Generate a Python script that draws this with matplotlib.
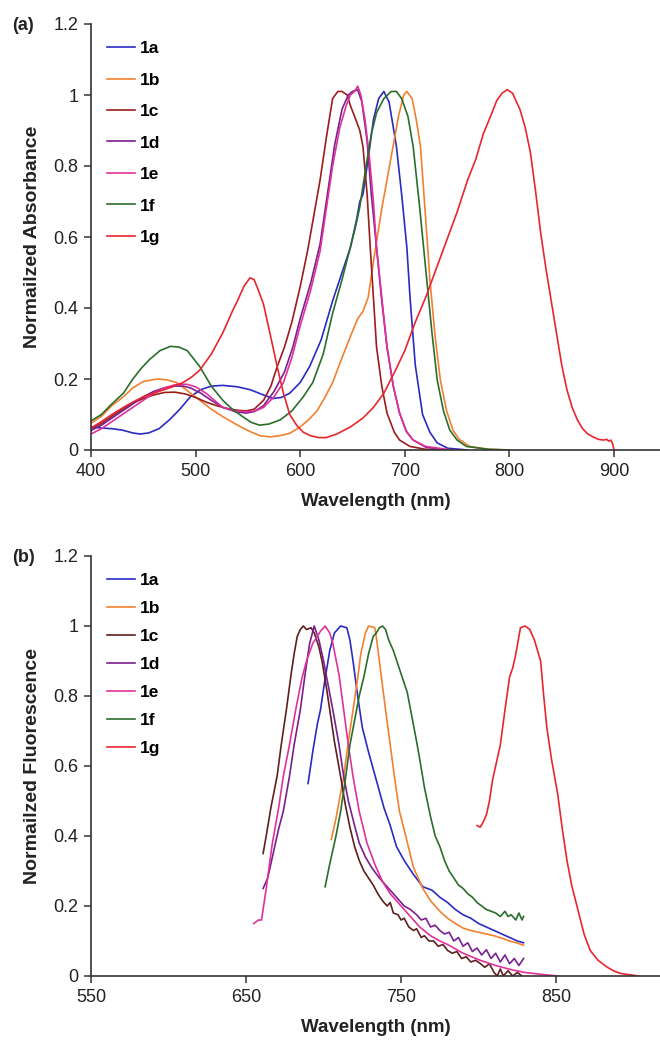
import matplotlib
matplotlib.use("Agg")
import matplotlib.pyplot as plt
from matplotlib.ticker import FuncFormatter

plt.rcParams['font.family'] = ['Liberation Sans', 'DejaVu Sans']

LABELS = ['1a', '1b', '1c', '1d', '1e', '1f', '1g']

# ---- panel (a): normalized absorbance ----
abs_1a_wl = [400, 410, 420, 430, 440, 447, 455, 465, 475, 485, 495, 505, 515, 526, 540, 552, 565, 574, 582,
             590, 600, 609, 620, 631, 640, 648, 654, 657, 660, 665, 670, 675, 680, 685, 692, 697, 702, 705,
             710, 717, 724, 731, 741, 760]
abs_1a = [0.065, 0.062, 0.06, 0.056, 0.048, 0.045, 0.048, 0.06, 0.085, 0.115, 0.15, 0.17, 0.18, 0.182, 0.178,
          0.17, 0.155, 0.145, 0.148, 0.16, 0.19, 0.235, 0.31, 0.42, 0.5, 0.57, 0.65, 0.70, 0.72, 0.82, 0.93,
          0.99, 1.01, 0.98, 0.855, 0.72, 0.57, 0.43, 0.24, 0.10, 0.05, 0.02, 0.005, 0.0]

abs_1b_wl = [400, 410, 420, 431, 440, 450, 463, 472, 482, 493, 504, 515, 526, 540, 552, 562, 571, 580, 590,
             600, 608, 616, 624, 631, 640, 648, 655, 660, 665, 670, 678, 686, 694, 699, 702, 707, 711, 715,
             720, 724, 729, 734, 740, 746, 752, 762, 780, 800]
abs_1b = [0.075, 0.095, 0.125, 0.15, 0.175, 0.193, 0.2, 0.198, 0.19, 0.165, 0.14, 0.115, 0.094, 0.07, 0.052,
          0.04, 0.037, 0.04, 0.047, 0.065, 0.085, 0.11, 0.15, 0.19, 0.26, 0.32, 0.37, 0.39, 0.43, 0.53, 0.68,
          0.81, 0.94, 1.0, 1.01, 0.99, 0.93, 0.855, 0.65, 0.48, 0.32, 0.197, 0.11, 0.056, 0.03, 0.01, 0.002, 0.0]

abs_1c_wl = [400, 410, 420, 430, 440, 450, 460, 470, 480, 490, 500, 510, 520, 530, 540, 548, 556, 565, 572,
             578, 585, 592, 600, 607, 613, 619, 625, 631, 636, 640, 645, 648, 652, 657, 660, 664, 667, 673,
             678, 683, 690, 695, 705, 720, 740]
abs_1c = [0.06, 0.075, 0.095, 0.115, 0.132, 0.145, 0.155, 0.162, 0.163, 0.158, 0.148, 0.135, 0.125, 0.117,
          0.112, 0.11, 0.115, 0.14, 0.18, 0.235, 0.29, 0.36, 0.46, 0.56, 0.66, 0.76, 0.88, 0.99, 1.01, 1.01,
          1.0, 0.97, 0.94, 0.9, 0.855, 0.72, 0.57, 0.29, 0.18, 0.104, 0.05, 0.028, 0.01, 0.002, 0.0]

abs_1d_wl = [400, 410, 420, 430, 440, 450, 460, 470, 480, 488, 495, 505, 515, 526, 538, 548, 556, 565, 575,
             585, 593, 600, 610, 619, 626, 633, 640, 646, 650, 655, 659, 664, 668, 673, 678, 683, 689, 695,
             702, 708, 720, 740]
abs_1d = [0.055, 0.07, 0.09, 0.11, 0.13, 0.15, 0.165, 0.175, 0.18, 0.18, 0.175, 0.16, 0.14, 0.12, 0.108,
          0.104, 0.108, 0.125, 0.165, 0.22, 0.29, 0.37, 0.47, 0.58, 0.72, 0.86, 0.96, 1.0, 1.01, 1.015, 0.98,
          0.87, 0.72, 0.57, 0.42, 0.29, 0.18, 0.104, 0.05, 0.028, 0.008, 0.0]

abs_1e_wl = [400, 410, 420, 430, 440, 450, 460, 470, 482, 492, 500, 510, 518, 526, 538, 549, 557, 565, 575,
             584, 592, 600, 610, 619, 626, 631, 638, 644, 648, 652, 655, 658, 662, 666, 670, 673, 678, 683,
             689, 695, 701, 708, 720, 745]
abs_1e = [0.045, 0.06, 0.08, 0.1, 0.12, 0.14, 0.16, 0.175, 0.185, 0.185, 0.178, 0.16, 0.14, 0.12, 0.11,
          0.108, 0.11, 0.12, 0.15, 0.19, 0.26, 0.35, 0.45, 0.56, 0.7, 0.8, 0.91, 0.97, 1.0, 1.01, 1.025, 1.0,
          0.93, 0.83, 0.7, 0.57, 0.43, 0.29, 0.18, 0.104, 0.055, 0.028, 0.01, 0.0]

abs_1f_wl = [400, 410, 420, 431, 440, 448, 456, 466, 476, 484, 492, 500, 504, 515, 526, 535, 545, 553, 561,
             570, 581, 592, 603, 612, 622, 631, 640, 647, 653, 657, 663, 668, 673, 680, 687, 692, 697, 703,
             708, 714, 721, 726, 731, 737, 743, 750, 759, 780, 800]
abs_1f = [0.082, 0.1, 0.13, 0.16, 0.2, 0.23, 0.255, 0.28, 0.292, 0.29, 0.28, 0.25, 0.235, 0.18, 0.14, 0.115,
          0.094, 0.078, 0.07, 0.073, 0.085, 0.11, 0.15, 0.19, 0.27, 0.385, 0.48, 0.56, 0.63, 0.685, 0.8, 0.89,
          0.95, 0.99, 1.01, 1.01, 0.99, 0.94, 0.855, 0.69, 0.48, 0.33, 0.197, 0.11, 0.056, 0.028, 0.01, 0.002, 0.0]

abs_1g_wl = [400, 410, 420, 431, 440, 450, 463, 475, 488, 496, 504, 515, 526, 535, 540, 546, 552, 556, 560,
             565, 571, 578, 584, 590, 597, 603, 610, 618, 625, 635, 648, 660, 670, 680, 692, 700, 710, 720,
             730, 740, 750, 760, 768, 775, 782, 788, 793, 798, 803, 810, 815, 820, 825, 830, 835, 840, 845,
             850, 855, 860, 865, 870, 875, 880, 885, 890, 893, 895, 897, 899, 900]
abs_1g = [0.062, 0.08, 0.1, 0.12, 0.135, 0.15, 0.163, 0.175, 0.19, 0.205, 0.225, 0.27, 0.33, 0.39, 0.42,
          0.46, 0.485, 0.48, 0.45, 0.41, 0.33, 0.235, 0.16, 0.1, 0.068, 0.05, 0.04, 0.035, 0.035, 0.045, 0.065,
          0.09, 0.12, 0.16, 0.23, 0.28, 0.36, 0.43, 0.51, 0.59, 0.67, 0.76, 0.82, 0.89, 0.94, 0.985, 1.005,
          1.015, 1.005, 0.96, 0.91, 0.84, 0.73, 0.61, 0.51, 0.42, 0.33, 0.24, 0.17, 0.12, 0.085, 0.06, 0.045,
          0.037, 0.03, 0.028, 0.03, 0.025, 0.028, 0.015, 0.0]

# ---- panel (b): normalized fluorescence ----
fl_1a_wl = [690, 693, 696, 698, 701, 704, 707, 711, 715, 717, 719, 722, 725, 729, 734, 739, 743, 747, 752,
            758, 764, 770, 775, 780, 785, 790, 795, 800, 805, 810, 815, 820, 825, 829]
fl_1a = [0.55, 0.64, 0.72, 0.76, 0.85, 0.93, 0.98, 1.0, 0.995, 0.96, 0.9, 0.8, 0.71, 0.64, 0.56, 0.48, 0.43,
         0.37, 0.33, 0.29, 0.255, 0.245, 0.225, 0.21, 0.19, 0.175, 0.165, 0.15, 0.14, 0.13, 0.12, 0.11, 0.1, 0.095]

fl_1b_wl = [705, 708, 713, 716, 719, 722, 724, 727, 729, 733, 734, 736, 740, 743, 746, 749, 753, 758, 764,
            769, 775, 780, 785, 790, 795, 800, 805, 810, 815, 820, 825, 829]
fl_1b = [0.39, 0.45, 0.57, 0.67, 0.76, 0.85, 0.92, 0.98, 1.0, 0.995, 0.97, 0.9, 0.76, 0.66, 0.56, 0.47, 0.4,
         0.31, 0.25, 0.215, 0.185, 0.165, 0.15, 0.137, 0.13, 0.125, 0.12, 0.115, 0.108, 0.1, 0.094, 0.088]

fl_1c_wl = [661, 663, 666, 670, 673, 676, 679, 681, 683, 685, 687, 689, 692, 694, 697, 699, 702, 704, 707,
            711, 714, 717, 720, 723, 726, 729, 732, 735, 738, 741, 743, 745, 748, 750, 752, 755, 758, 760,
            763, 765, 768, 771, 774, 777, 780, 783, 786, 789, 792, 795, 798, 801, 804, 807, 810, 812, 814,
            816, 819, 822, 825, 828]
fl_1c = [0.35, 0.4, 0.48, 0.57, 0.67, 0.76, 0.86, 0.92, 0.97, 0.99, 1.0, 0.99, 0.995, 0.98, 0.94, 0.9, 0.82,
         0.76, 0.67, 0.57, 0.49, 0.425, 0.37, 0.33, 0.3, 0.28, 0.26, 0.235, 0.215, 0.2, 0.21, 0.18, 0.175,
         0.16, 0.165, 0.14, 0.13, 0.135, 0.11, 0.115, 0.1, 0.1, 0.085, 0.09, 0.073, 0.065, 0.07, 0.05, 0.055,
         0.04, 0.045, 0.036, 0.025, 0.035, 0.01, 0.0, 0.02, 0.0, 0.015, 0.0, 0.01, 0.0]

fl_1d_wl = [661, 664, 668, 671, 674, 678, 681, 685, 688, 691, 694, 697, 700, 703, 706, 710, 713, 716, 720,
            723, 727, 731, 736, 740, 744, 748, 752, 756, 760, 763, 766, 769, 772, 775, 778, 781, 784, 787,
            790, 793, 796, 799, 802, 805, 808, 811, 814, 817, 820, 823, 826, 829]
fl_1d = [0.25, 0.28, 0.36, 0.42, 0.47, 0.57, 0.66, 0.76, 0.86, 0.95, 1.0, 0.96, 0.9, 0.83, 0.76, 0.66, 0.57,
         0.5, 0.43, 0.38, 0.34, 0.31, 0.28, 0.26, 0.24, 0.22, 0.2, 0.19, 0.175, 0.16, 0.165, 0.14, 0.145,
         0.13, 0.12, 0.125, 0.1, 0.11, 0.085, 0.095, 0.07, 0.08, 0.06, 0.075, 0.05, 0.065, 0.04, 0.06, 0.035,
         0.05, 0.03, 0.05]

fl_1e_wl = [655, 658, 660, 663, 667, 671, 674, 678, 682, 686, 689, 693, 698, 701, 704, 706, 710, 713, 716,
            719, 723, 728, 733, 738, 743, 750, 756, 762, 769, 775, 780, 790, 801, 811, 822, 830, 840, 851]
fl_1e = [0.15, 0.16, 0.16, 0.25, 0.38, 0.48, 0.57, 0.66, 0.76, 0.85, 0.9, 0.95, 0.985, 1.0, 0.98, 0.95, 0.86,
         0.76, 0.66, 0.57, 0.47, 0.38, 0.32, 0.27, 0.235, 0.2, 0.17, 0.14, 0.115, 0.1, 0.09, 0.065, 0.045,
         0.03, 0.017, 0.01, 0.005, 0.0]

fl_1f_wl = [701, 704, 708, 711, 714, 717, 720, 723, 726, 729, 732, 734, 736, 738, 740, 742, 745, 748, 751,
            754, 757, 760, 762, 765, 769, 772, 775, 778, 781, 784, 787, 790, 793, 796, 799, 802, 805, 808,
            811, 814, 817, 819, 821, 824, 826, 828, 829]
fl_1f = [0.255, 0.32, 0.4, 0.47, 0.56, 0.66, 0.73, 0.8, 0.855, 0.92, 0.97, 0.98, 0.995, 1.0, 0.99, 0.96,
         0.93, 0.89, 0.85, 0.81, 0.74, 0.67, 0.62, 0.54, 0.455, 0.4, 0.37, 0.33, 0.3, 0.28, 0.26, 0.25, 0.235,
         0.225, 0.21, 0.2, 0.19, 0.185, 0.18, 0.17, 0.185, 0.17, 0.175, 0.16, 0.18, 0.16, 0.17]

fl_1g_wl = [799, 801, 803, 805, 807, 809, 811, 814, 817, 820, 822, 824, 827, 830, 833, 836, 840, 842, 844,
            847, 851, 854, 857, 860, 864, 868, 872, 877, 883, 887, 891, 895, 900, 903]
fl_1g = [0.43, 0.425, 0.44, 0.46, 0.5, 0.56, 0.6, 0.66, 0.76, 0.855, 0.88, 0.92, 0.995, 1.0, 0.99, 0.96, 0.9,
         0.8, 0.71, 0.62, 0.52, 0.42, 0.33, 0.26, 0.19, 0.12, 0.073, 0.045, 0.025, 0.015, 0.008, 0.005, 0.002, 0.0]

colors_a = ['#2b2bc2', '#f2812f', '#9b1c1c', '#7a1f8f', '#e0319b', '#2b6e2b', '#e8262e']
colors_b = ['#2b2bc2', '#f2812f', '#5e1f1f', '#7a1f8f', '#e0319b', '#2b6e2b', '#e8262e']


def draw_panel(ax, series, colors, xlim, xticks, ylabel, tag, legend_top, spacing):
    for (wl, val), label, color in zip(series, LABELS, colors):
        ax.plot(wl, val, color=color, linewidth=1.2, label=label)

    ax.set_xlim(*xlim)
    ax.set_ylim(0, 1.2)
    ax.set_xticks(xticks)
    ax.set_yticks([0, 0.2, 0.4, 0.6, 0.8, 1.0, 1.2])
    ax.yaxis.set_major_formatter(FuncFormatter(lambda v, p: '%g' % round(v, 1)))
    for side in ['top', 'right']:
        ax.spines[side].set_visible(False)
    for side in ['left', 'bottom']:
        ax.spines[side].set_color('#333333')
        ax.spines[side].set_linewidth(1.2)
    ax.tick_params(direction='out', length=5, width=1.1, color='#333333',
                   labelsize=13, labelcolor='#222222', pad=4)

    ax.set_xlabel('Wavelength (nm)', fontsize=13.5, fontweight='bold', color='#222222', labelpad=10)
    ax.set_ylabel(ylabel, fontsize=14, fontweight='bold', color='#222222', labelpad=9)

    ax.legend(loc='upper left', bbox_to_anchor=(107 / 660, legend_top),
              bbox_transform=ax.figure.transFigure, frameon=False,
              prop={'weight': 'bold', 'size': 12.5}, handlelength=1.6,
              handletextpad=0.3, borderpad=0, borderaxespad=0,
              labelspacing=spacing)

    pos = ax.get_position()
    ax.figure.text(12 / 660, pos.y1 - 1 / 1041, tag, fontsize=13, fontweight='bold',
                   color='#222222', va='center', ha='left')


fig = plt.figure(figsize=(6.6, 10.41), dpi=100)
ax_a = fig.add_axes([91 / 660, 1 - 450 / 1041, 569 / 660, 426 / 1041])
ax_b = fig.add_axes([91 / 660, 1 - 976 / 1041, 569 / 660, 420 / 1041])

series_a = [(abs_1a_wl, abs_1a), (abs_1b_wl, abs_1b), (abs_1c_wl, abs_1c), (abs_1d_wl, abs_1d),
            (abs_1e_wl, abs_1e), (abs_1f_wl, abs_1f), (abs_1g_wl, abs_1g)]
series_b = [(fl_1a_wl, fl_1a), (fl_1b_wl, fl_1b), (fl_1c_wl, fl_1c), (fl_1d_wl, fl_1d),
            (fl_1e_wl, fl_1e), (fl_1f_wl, fl_1f), (fl_1g_wl, fl_1g)]

draw_panel(ax_a, series_a, colors_a, (400, 944), [400, 500, 600, 700, 800, 900],
           'Normailzed Absorbance', '(a)', 1 - 41 / 1041, 0.94)
draw_panel(ax_b, series_b, colors_b, (550, 917), [550, 650, 750, 850],
           'Normailzed Fluorescence', '(b)', 1 - 573 / 1041, 0.74)

fig.savefig('out.png', dpi=100)
